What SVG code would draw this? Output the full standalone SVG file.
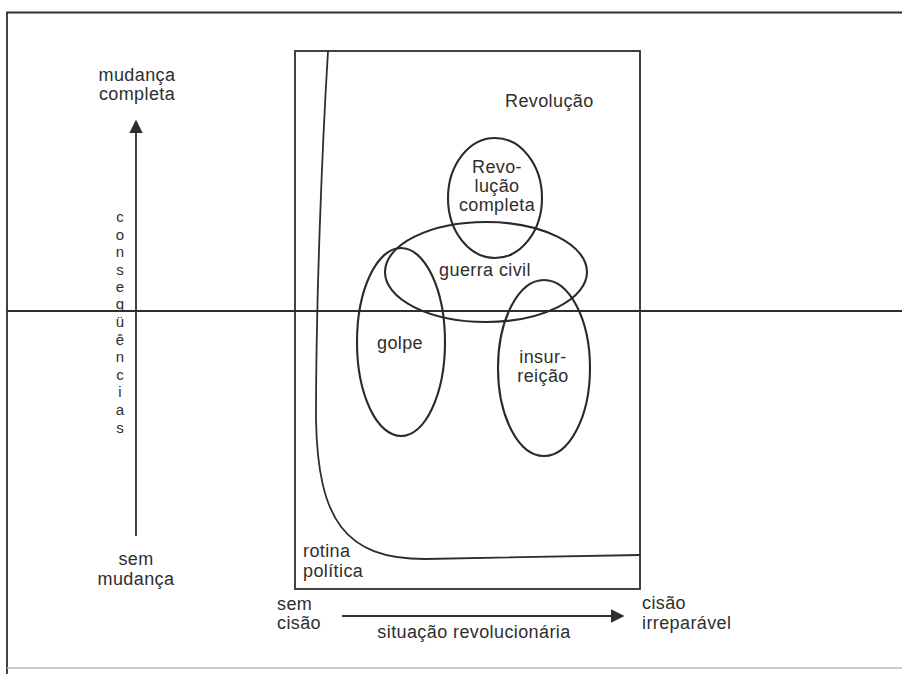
<svg xmlns="http://www.w3.org/2000/svg" width="902" height="674" viewBox="0 0 902 674">
<defs>
<style>
.ln{fill:none;stroke:#2e2e2e;stroke-width:1.8}
.el{fill:none;stroke:#2a2a2a;stroke-width:2.1}
text{font-family:"Liberation Sans",Arial,sans-serif;font-size:18px;letter-spacing:0.4px;fill:#2e2e2e}
.c{text-anchor:middle}
.v text{font-size:15px;letter-spacing:0}
</style>
<marker id="ah" viewBox="0 0 10 10" refX="9" refY="5" markerWidth="7.5" markerHeight="7.5" markerUnits="strokeWidth" orient="auto">
<path d="M0,0 L10,5 L0,10 z" fill="#2e2e2e"/>
</marker>
</defs>
<rect width="902" height="674" fill="#ffffff"/>
<g id="frame">
<path class="ln" d="M902,12.5 L7,12.5 L7,674" stroke-width="2.2"/>
<line x1="7" y1="668" x2="902" y2="668" stroke="#bbbbbb" stroke-width="1.5"/>
</g>
<g id="box">
<rect class="ln" x="295" y="51" width="345" height="538"/>
<line class="ln" x1="7" y1="311" x2="902" y2="311"/>
<path class="ln" d="M328,51 C322,150 316,300 316,420 C318,520 345,559 425,559 L640,555"/>
<text x="505" y="107">Revolução</text>
<text x="303" y="557">rotina</text>
<text x="303" y="577">política</text>
</g>
<g id="connectors">
<line class="ln" x1="136" y1="536" x2="136" y2="121" marker-end="url(#ah)"/>
<line class="ln" x1="342" y1="616" x2="623" y2="616" marker-end="url(#ah)"/>
</g>
<g id="axis-labels">
<text class="c" x="137" y="81">mudança</text>
<text class="c" x="137" y="100">completa</text>
<text class="c" x="136" y="565">sem</text>
<text class="c" x="136" y="585">mudança</text>
<text x="277" y="610">sem</text>
<text x="277" y="629">cisão</text>
<text x="642" y="609">cisão</text>
<text x="642" y="629">irreparável</text>
<text class="c" x="474" y="638">situação revolucionária</text>
<g class="c v">
<text x="120" y="222">c</text>
<text x="120" y="240">o</text>
<text x="120" y="257">n</text>
<text x="120" y="275">s</text>
<text x="120" y="292">e</text>
<text x="120" y="309">q</text>
<text x="120" y="327">ü</text>
<text x="120" y="345">ê</text>
<text x="120" y="362">n</text>
<text x="120" y="380">c</text>
<text x="120" y="397">i</text>
<text x="120" y="415">a</text>
<text x="120" y="433">s</text>
</g>
</g>
<g id="revolucao-completa">
<ellipse class="el" cx="495" cy="198" rx="47" ry="60"/>
<text class="c" x="497" y="173">Revo-</text>
<text class="c" x="497" y="192">lução</text>
<text class="c" x="497" y="211">completa</text>
</g>
<g id="guerra-civil">
<ellipse class="el" cx="486" cy="272" rx="101" ry="50"/>
<text class="c" x="485" y="276">guerra civil</text>
</g>
<g id="golpe">
<ellipse class="el" cx="401" cy="342" rx="44" ry="94"/>
<text class="c" x="400" y="349">golpe</text>
</g>
<g id="insurreicao">
<ellipse class="el" cx="544" cy="368" rx="46" ry="88"/>
<text class="c" x="543" y="363">insur-</text>
<text class="c" x="543" y="382">reição</text>
</g>
</svg>
